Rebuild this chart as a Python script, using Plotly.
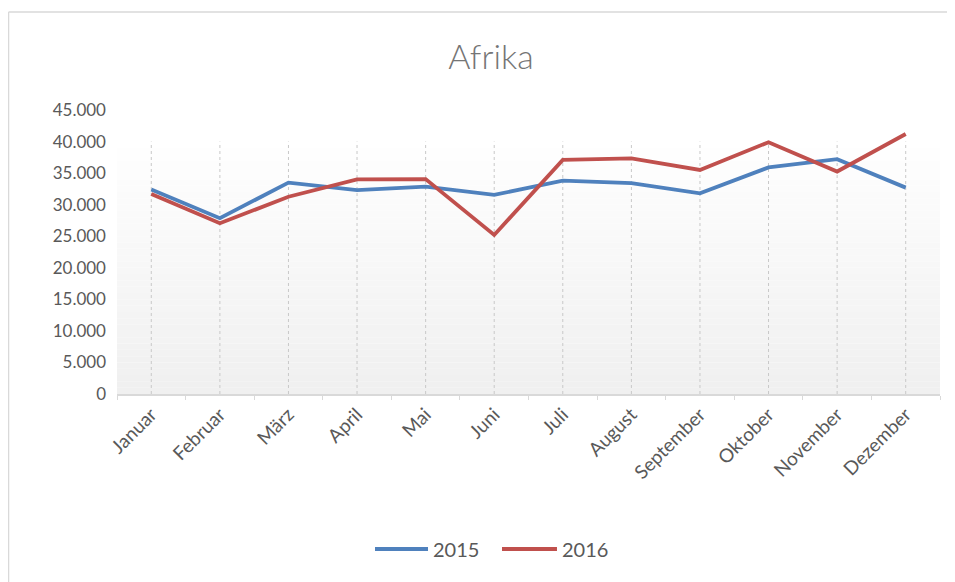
import plotly.graph_objects as go

# Monthly values
months = ["Januar", "Februar", "März", "April", "Mai", "Juni", "Juli",
          "August", "September", "Oktober", "November", "Dezember"]
sales_2015 = [32400, 27850, 33500, 32300, 32850, 31550, 33800,
              33400, 31800, 35900, 37200, 32700]
sales_2016 = [31700, 27050, 31250, 34000, 34050, 25200, 37100,
              37350, 35500, 39900, 35250, 41200]
series_names = ["2015", "2016"]
series_colors = ["#4F81BD", "#C0504D"]
y_ticks = [0, 5000, 10000, 15000, 20000, 25000, 30000, 35000, 40000, 45000]

grey_text = "#595959"
font_family = "Lato, 'Open Sans', sans-serif"

fig = go.Figure()
for name, vals, col in zip(series_names, [sales_2015, sales_2016], series_colors):
    fig.add_trace(go.Scatter(x=months, y=vals, name=name, mode="lines",
                             line=dict(color=col, width=3.8),
                             showlegend=False))

# plot area background: soft white->grey gradient, built from thin bands
shapes = []
top = 40000
n_bands = 40
for i in range(n_bands):
    y0 = top * i / n_bands
    y1 = top * (i + 1) / n_bands
    t = i / (n_bands - 1)          # 0 at bottom, 1 at top
    c = int(240 + 15 * t)
    shapes.append(dict(type="rect", xref="paper", yref="y", x0=0, x1=1,
                       y0=y0, y1=y1, layer="below", line=dict(width=0),
                       fillcolor=f"rgb({c},{c},{c})"))

# dotted vertical gridlines at each month
for m in months:
    shapes.append(dict(type="line", xref="x", yref="y", x0=m, x1=m,
                       y0=0, y1=top, layer="below",
                       line=dict(color="#C8C8C8", width=1, dash="dot")))

# chart frame: only left and top edges are inside the picture
frame = dict(color="#D9D9D9", width=1.5)
shapes.append(dict(type="line", xref="paper", yref="paper",
                   x0=-0.1318, x1=-0.1318, y0=-0.8, y1=1.345, line=frame))
shapes.append(dict(type="line", xref="paper", yref="paper",
                   x0=-0.1318, x1=1.1, y0=1.345, y1=1.345, line=frame))

# legend drawn by hand so the line keys are as long as in the original
annotations = []
leg_y = -0.5458
key_x = [(0.3135, 0.3779), (0.4678, 0.5346)]
for name, col, (a, b) in zip(series_names, series_colors, key_x):
    shapes.append(dict(type="line", xref="paper", yref="paper",
                       x0=a, x1=b, y0=leg_y, y1=leg_y,
                       line=dict(color=col, width=4)))
    annotations.append(dict(text=name, xref="paper", yref="paper",
                            x=b + 0.004, y=leg_y, xanchor="left",
                            yanchor="middle", showarrow=False,
                            font=dict(size=20, color=grey_text)))

# page body has an 8px margin, so the figure is shifted by that much
fig.update_layout(
    width=947, height=574,
    margin=dict(l=109, r=15, t=102, b=188),
    paper_bgcolor="white", plot_bgcolor="white",
    separators=",.",
    font=dict(family=font_family, color=grey_text, size=17),
    title=dict(text="Afrika", x=0.51, xanchor="center", y=1 - 49 / 574,
               yanchor="middle",
               font=dict(size=34, color="#757575", family=font_family,
                         weight=300)),
    showlegend=False,
    shapes=shapes,
    annotations=annotations,
)

fig.update_xaxes(
    type="category", range=[-0.5, len(months) - 0.5],
    showgrid=False, showline=True, linecolor="#D9D9D9", linewidth=2,
    ticks="outside", tickson="boundaries", ticklen=4, tickcolor="#D9D9D9",
    tickangle=-45, tickfont=dict(size=19, color=grey_text),
    zeroline=False,
)
fig.update_yaxes(
    range=[0, 45000], tickvals=y_ticks, tickformat=",d",
    showgrid=False, showline=False, zeroline=False,
    ticks="", ticklabelstandoff=10,
    tickfont=dict(size=17, color=grey_text),
)

fig.write_html("out.html")
